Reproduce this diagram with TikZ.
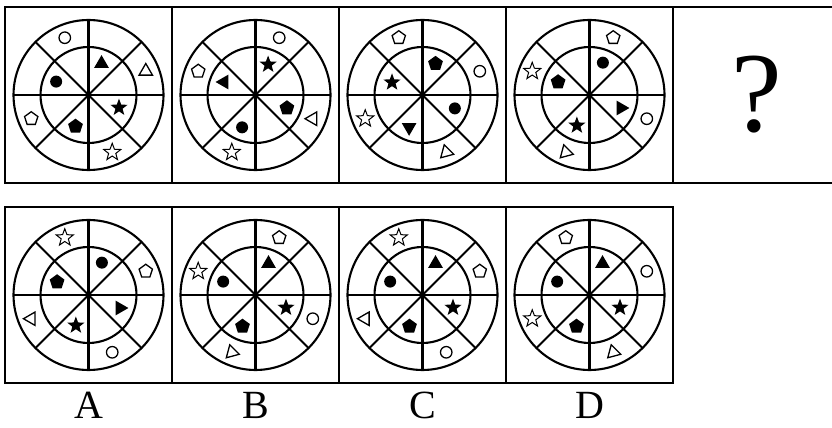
\documentclass[tikz,border=0pt]{standalone}
\usepackage{fontspec}
\setmainfont{Liberation Serif}
\usetikzlibrary{calc,shapes.geometric}

\begin{document}
\begin{tikzpicture}[x=1pt, y=1pt,
    cell/.style={draw, line width=2.5pt, minimum width=167pt, minimum height=176pt, inner sep=0pt},
    wheel/.style={line width=2.1pt},
    fdot/.style={circle, fill, minimum size=12pt, inner sep=0pt},
    odot/.style={circle, draw, line width=1.3pt, minimum size=11.5pt, inner sep=0pt},
    ftri/.style={regular polygon, regular polygon sides=3, fill, minimum size=17pt, inner sep=0pt},
    otri/.style={regular polygon, regular polygon sides=3, draw, line width=1.3pt, minimum size=15.5pt, inner sep=0pt},
    fpent/.style={regular polygon, regular polygon sides=5, fill, minimum size=15.5pt, inner sep=0pt},
    opent/.style={regular polygon, regular polygon sides=5, draw, line width=1.3pt, minimum size=14pt, inner sep=0pt},
    fstar/.style={star, star points=5, star point ratio=2.4, fill, minimum size=18pt, inner sep=0pt},
    ostar/.style={star, star points=5, star point ratio=2.4, draw, line width=1pt, minimum size=18pt, inner sep=0pt},
    letter/.style={font=\fontsize{40}{40}\selectfont, inner sep=0pt}
  ]
  \useasboundingbox (0,0) rectangle (832,428);

  \node[cell] (b1) at (88.5,333) {};
  \node[cell] (b2) at (255.5,333) {};
  \node[cell] (b3) at (422.5,333) {};
  \node[cell] (b4) at (589.5,333) {};
  \node[cell, font=\fontsize{114}{114}\selectfont] (b5) at (756.5,333) {?};

  \node[cell] (ba) at (88.5,133) {};
  \node[cell] (bb) at (255.5,133) {};
  \node[cell] (bc) at (422.5,133) {};
  \node[cell] (bd) at (589.5,133) {};

  \foreach \w in {b1,b2,b3,b4,ba,bb,bc,bd} {
    \draw[wheel] (\w.center) circle (75pt);
    \draw[wheel] (\w.center) circle (48pt);
    \foreach \a in {0,45,90,135}
      \draw[wheel] ($(\w.center)+(\a:75)$) -- ($(\w.center)+(\a+180:75)$);
  }

  % row of the question
  \node[ftri] (b1in1) at ($(b1)+(67.5:34)$) {};
  \node[fdot] (b1in3) at ($(b1)+(157.5:35)$) {};
  \node[fpent] (b1in5) at ($(b1)+(247.5:34)$) {};
  \node[fstar] (b1in7) at ($(b1)+(337.5:33)$) {};
  \node[otri] (b1out0) at ($(b1)+(22.5:62)$) {};
  \node[odot] (b1out2) at ($(b1)+(112.5:62)$) {};
  \node[opent] (b1out4) at ($(b1)+(202.5:62)$) {};
  \node[ostar] (b1out6) at ($(b1)+(292.5:62)$) {};

  \node[fstar] (b2in1) at ($(b2)+(67.5:33)$) {};
  \node[ftri, rotate=90] (b2in3) at ($(b2)+(157.5:34)$) {};
  \node[fdot] (b2in5) at ($(b2)+(247.5:35)$) {};
  \node[fpent] (b2in7) at ($(b2)+(337.5:34)$) {};
  \node[odot] (b2out1) at ($(b2)+(67.5:62)$) {};
  \node[opent] (b2out3) at ($(b2)+(157.5:62)$) {};
  \node[ostar] (b2out5) at ($(b2)+(247.5:62)$) {};
  \node[otri, rotate=90] (b2out7) at ($(b2)+(337.5:62)$) {};

  \node[fpent] (b3in1) at ($(b3)+(67.5:34)$) {};
  \node[fstar] (b3in3) at ($(b3)+(157.5:33)$) {};
  \node[ftri, rotate=180] (b3in5) at ($(b3)+(247.5:35)$) {};
  \node[fdot] (b3in7) at ($(b3)+(337.5:35)$) {};
  \node[odot] (b3out0) at ($(b3)+(22.5:62)$) {};
  \node[opent] (b3out2) at ($(b3)+(112.5:62)$) {};
  \node[ostar] (b3out4) at ($(b3)+(202.5:62)$) {};
  \node[otri, rotate=135] (b3out6) at ($(b3)+(292.5:62)$) {};

  \node[fdot] (b4in1) at ($(b4)+(67.5:35)$) {};
  \node[fpent] (b4in3) at ($(b4)+(157.5:34)$) {};
  \node[fstar] (b4in5) at ($(b4)+(247.5:33)$) {};
  \node[ftri, rotate=-90] (b4in7) at ($(b4)+(337.5:34)$) {};
  \node[opent] (b4out1) at ($(b4)+(67.5:62)$) {};
  \node[ostar] (b4out3) at ($(b4)+(157.5:62)$) {};
  \node[otri, rotate=15] (b4out5) at ($(b4)+(247.5:62)$) {};
  \node[odot] (b4out7) at ($(b4)+(337.5:62)$) {};

  % row of the answers
  \node[fdot] (bain1) at ($(ba)+(67.5:35)$) {};
  \node[fpent] (bain3) at ($(ba)+(157.5:34)$) {};
  \node[fstar] (bain5) at ($(ba)+(247.5:33)$) {};
  \node[ftri, rotate=-90] (bain7) at ($(ba)+(337.5:34)$) {};
  \node[opent] (baout0) at ($(ba)+(22.5:62)$) {};
  \node[ostar] (baout2) at ($(ba)+(112.5:62)$) {};
  \node[otri, rotate=90] (baout4) at ($(ba)+(202.5:62)$) {};
  \node[odot] (baout6) at ($(ba)+(292.5:62)$) {};

  \node[ftri] (bbin1) at ($(bb)+(67.5:34)$) {};
  \node[fdot] (bbin3) at ($(bb)+(157.5:35)$) {};
  \node[fpent] (bbin5) at ($(bb)+(247.5:34)$) {};
  \node[fstar] (bbin7) at ($(bb)+(337.5:33)$) {};
  \node[opent] (bbout1) at ($(bb)+(67.5:62)$) {};
  \node[ostar] (bbout3) at ($(bb)+(157.5:62)$) {};
  \node[otri, rotate=15] (bbout5) at ($(bb)+(247.5:62)$) {};
  \node[odot] (bbout7) at ($(bb)+(337.5:62)$) {};

  \node[ftri] (bcin1) at ($(bc)+(67.5:34)$) {};
  \node[fdot] (bcin3) at ($(bc)+(157.5:35)$) {};
  \node[fpent] (bcin5) at ($(bc)+(247.5:34)$) {};
  \node[fstar] (bcin7) at ($(bc)+(337.5:33)$) {};
  \node[opent] (bcout0) at ($(bc)+(22.5:62)$) {};
  \node[ostar] (bcout2) at ($(bc)+(112.5:62)$) {};
  \node[otri, rotate=90] (bcout4) at ($(bc)+(202.5:62)$) {};
  \node[odot] (bcout6) at ($(bc)+(292.5:62)$) {};

  \node[ftri] (bdin1) at ($(bd)+(67.5:34)$) {};
  \node[fdot] (bdin3) at ($(bd)+(157.5:35)$) {};
  \node[fpent] (bdin5) at ($(bd)+(247.5:34)$) {};
  \node[fstar] (bdin7) at ($(bd)+(337.5:33)$) {};
  \node[odot] (bdout0) at ($(bd)+(22.5:62)$) {};
  \node[opent] (bdout2) at ($(bd)+(112.5:62)$) {};
  \node[ostar] (bdout4) at ($(bd)+(202.5:62)$) {};
  \node[otri, rotate=135] (bdout6) at ($(bd)+(292.5:62)$) {};

  \node[letter] (la) at (88.5,23) {A};
  \node[letter] (lb) at (255.5,23) {B};
  \node[letter] (lc) at (422.5,23) {C};
  \node[letter] (ld) at (589.5,23) {D};
\end{tikzpicture}
\end{document}
